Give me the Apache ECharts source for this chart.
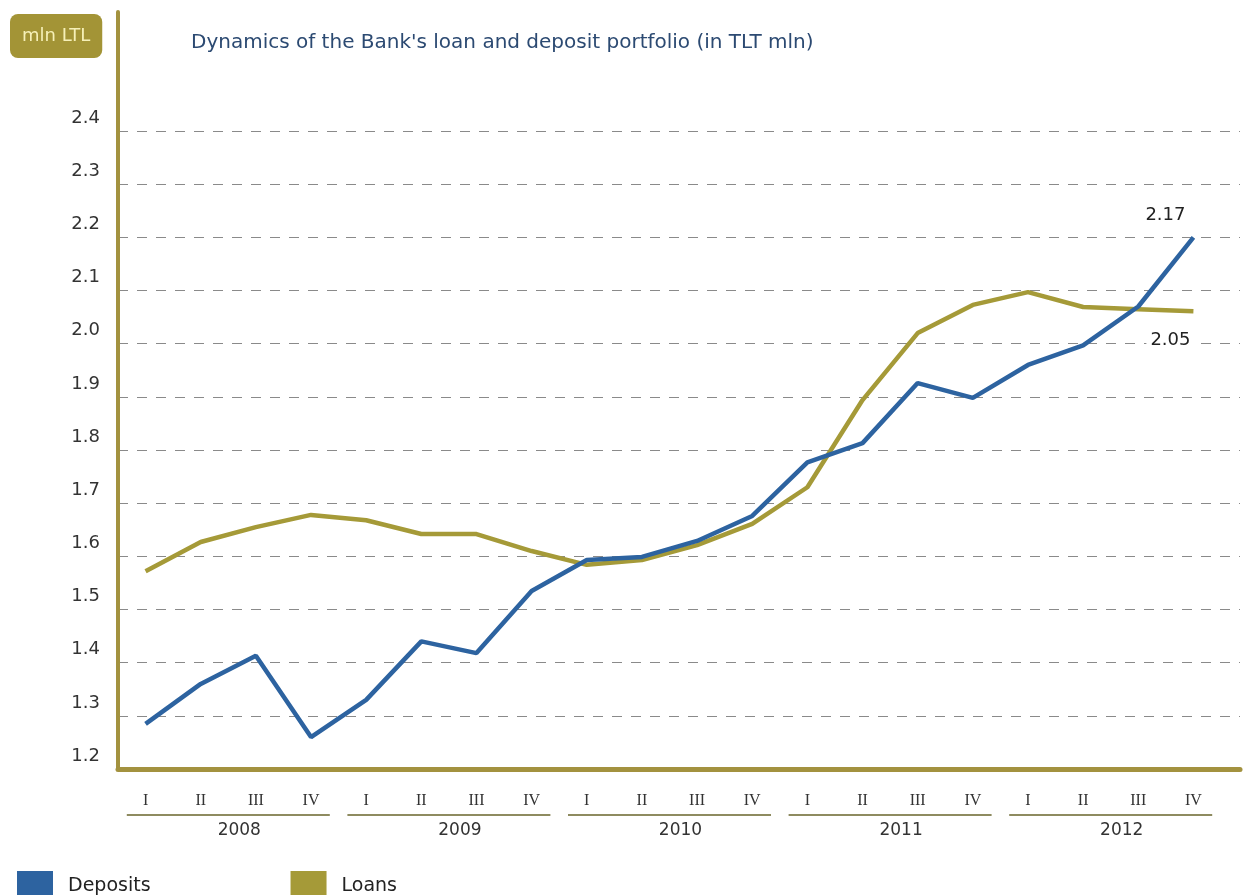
<!DOCTYPE html>
<html>
<head>
<meta charset="utf-8">
<script src="https://cdn.jsdelivr.net/npm/echarts@6/dist/echarts.min.js"></script>
<style>
  html, body { margin: 0; padding: 0; background: #fff; }
  #chart { width: 1243px; height: 895px; }
</style>
</head>
<body>
<div id="chart"></div>
<script>
const quarters = ['I', 'II', 'III', 'IV', 'I', 'II', 'III', 'IV', 'I', 'II', 'III', 'IV',
  'I', 'II', 'III', 'IV', 'I', 'II', 'III', 'IV'];
const years = ['2008', '2009', '2010', '2011', '2012'];
const deposits = [1.285, 1.36, 1.413, 1.26, 1.33, 1.44, 1.418, 1.535, 1.593, 1.599,
  1.629, 1.676, 1.777, 1.813, 1.926, 1.898, 1.96, 1.997, 2.07, 2.2];
const loans = [1.572, 1.627, 1.655, 1.678, 1.668, 1.642, 1.642, 1.61, 1.584, 1.593,
  1.621, 1.661, 1.73, 1.894, 2.02, 2.073, 2.097, 2.069, 2.065, 2.061];
const endNotes = ['2.17', '2.05'];

const blue = '#2d63a0';
const gold = '#a59a38';
const axisGold = '#a3923f';

const chart = echarts.init(document.getElementById('chart'));

const option = {
  backgroundColor: '#fff',
  animation: false,
  title: [
    {
      text: "Dynamics of the Bank's loan and deposit portfolio (in TLT mln)",
      left: 186,
      top: 28,
      textStyle: { fontFamily: 'DejaVu Sans', fontSize: 20, fontWeight: 'normal', color: '#2c4a72' }
    },
    {
      text: 'mln LTL',
      left: 10,
      top: 14,
      padding: [13, 12],
      backgroundColor: '#a39436',
      borderRadius: 8,
      textStyle: { fontFamily: 'DejaVu Sans', fontSize: 18, fontWeight: 'normal', color: '#f6f0b8' }
    }
  ],
  legend: {
    left: 12,
    top: 866,
    icon: 'rect',
    itemWidth: 36,
    itemHeight: 30,
    itemGap: 140,
    data: ['Deposits', 'Loans'],
    textStyle: { fontFamily: 'DejaVu Sans', fontSize: 19, color: '#222', padding: [6, 0, 0, 10] }
  },
  grid: [
    { left: 118, right: 22, top: 12, bottom: 126 },
    { left: 118, right: 3, top: 131, bottom: 126 }
  ],
  xAxis: [
    {
      type: 'category',
      gridIndex: 0,
      data: quarters,
      boundaryGap: true,
      axisLine: { show: false },
      axisTick: { show: false },
      axisLabel: {
        margin: 24,
        fontFamily: 'Liberation Serif',
        fontSize: 16,
        color: '#333'
      }
    },
    {
      type: 'category',
      gridIndex: 0,
      position: 'bottom',
      data: years,
      axisLine: { show: false },
      axisTick: { show: false },
      axisLabel: {
        margin: 45,
        formatter: v => '{u|}\n{y|' + v + '}',
        rich: {
          u: { width: 203, height: 2, backgroundColor: '#8e8b60' },
          y: { fontFamily: 'DejaVu Sans', fontSize: 17, color: '#333', lineHeight: 26, padding: [4, 0, 0, 22] }
        }
      }
    },
    {
      type: 'value',
      gridIndex: 1,
      min: 0,
      max: 1,
      axisLine: { show: true, lineStyle: { color: axisGold, width: 5 } },
      axisTick: { show: false },
      axisLabel: { show: false },
      splitLine: { show: false }
    }
  ],
  yAxis: [
    {
      type: 'value',
      gridIndex: 0,
      min: 1.2,
      max: 2.624,
      axisLine: { show: true, lineStyle: { color: axisGold, width: 4 } },
      axisTick: { show: false },
      axisLabel: { show: false },
      splitLine: { show: false }
    },
    {
      type: 'value',
      gridIndex: 1,
      min: 1.2,
      max: 2.4,
      interval: 0.1,
      axisLine: { show: false },
      axisTick: { show: false },
      axisLabel: {
        margin: 18,
        verticalAlign: 'bottom',
        padding: [0, 0, 4, 0],
        fontFamily: 'DejaVu Sans',
        fontSize: 18,
        color: '#333',
        formatter: v => v.toFixed(1)
      },
      splitLine: {
        show: true,
        lineStyle: { color: '#8a8a8a', width: 1, type: [10, 9] }
      }
    }
  ],
  series: [
    {
      name: 'Deposits',
      type: 'line',
      xAxisIndex: 0,
      yAxisIndex: 0,
      data: deposits,
      symbol: 'none',
      color: blue,
      lineStyle: { width: 4.5, color: blue },
      z: 4,
      endLabel: {
        show: true,
        distance: 0,
        align: 'center',
        verticalAlign: 'middle',
        offset: [-28, -22],
        fontFamily: 'DejaVu Sans',
        fontSize: 18,
        color: '#222',
        formatter: () => endNotes[0]
      }
    },
    {
      name: 'Loans',
      type: 'line',
      xAxisIndex: 0,
      yAxisIndex: 0,
      data: loans,
      symbol: 'none',
      color: gold,
      lineStyle: { width: 4.5, color: gold },
      z: 3,
      endLabel: {
        show: true,
        distance: 0,
        align: 'center',
        verticalAlign: 'middle',
        offset: [-23, 29],
        backgroundColor: '#fff',
        padding: [2, 4],
        fontFamily: 'DejaVu Sans',
        fontSize: 18,
        color: '#222',
        formatter: () => endNotes[1]
      }
    }
  ]
};

chart.setOption(option);
</script>
</body>
</html>
